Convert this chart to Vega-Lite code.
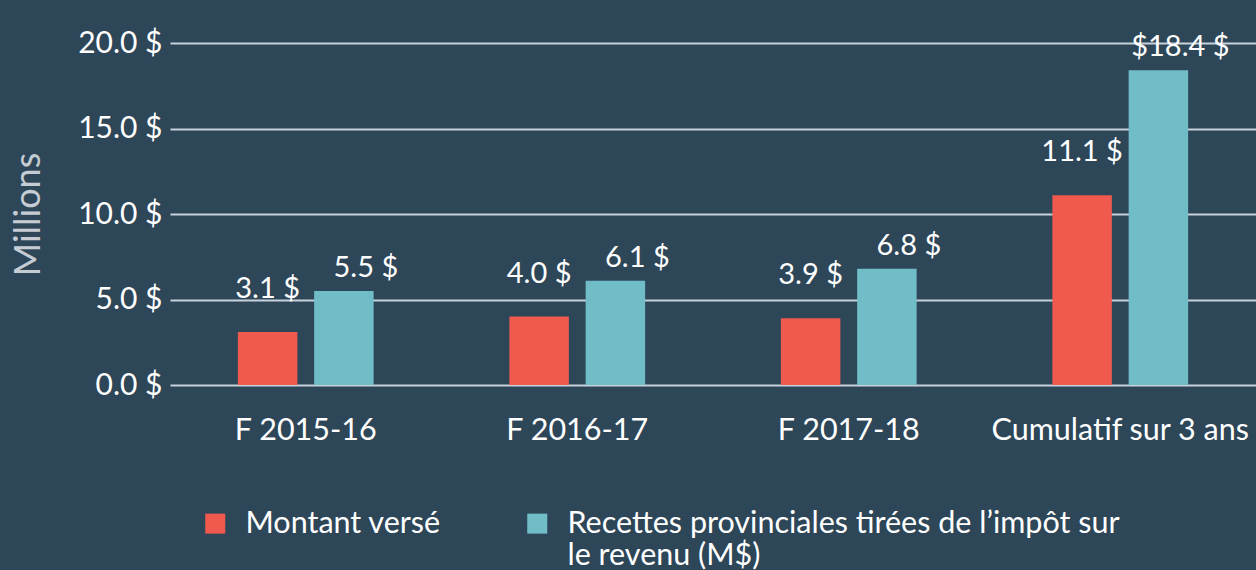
{
  "$schema": "https://vega.github.io/schema/vega-lite/v6.json",
  "autosize": "none",
  "width": 1086,
  "height": 342,
  "padding": {"left": 170, "top": 43, "right": 0, "bottom": 185},
  "background": "#2d4658",
  "config": {
    "view": {"stroke": null},
    "font": "Lato"
  },
  "data": {
    "values": [
      {"period": "F 2015-16", "series": "Montant versé", "value": 3.1, "label": "3.1 $"},
      {"period": "F 2015-16", "series": "Recettes provinciales tirées de l’impôt sur le revenu (M$)", "value": 5.5, "label": "5.5 $"},
      {"period": "F 2016-17", "series": "Montant versé", "value": 4.0, "label": "4.0 $"},
      {"period": "F 2016-17", "series": "Recettes provinciales tirées de l’impôt sur le revenu (M$)", "value": 6.1, "label": "6.1 $"},
      {"period": "F 2017-18", "series": "Montant versé", "value": 3.9, "label": "3.9 $"},
      {"period": "F 2017-18", "series": "Recettes provinciales tirées de l’impôt sur le revenu (M$)", "value": 6.8, "label": "6.8 $"},
      {"period": "Cumulatif sur 3 ans", "series": "Montant versé", "value": 11.1, "label": "11.1 $"},
      {"period": "Cumulatif sur 3 ans", "series": "Recettes provinciales tirées de l’impôt sur le revenu (M$)", "value": 18.4, "label": "$18.4 $"}
    ]
  },
  "encoding": {
    "x": {
      "field": "period", "type": "nominal", "sort": null,
      "scale": {"paddingInner": 0.5, "paddingOuter": 0.25},
      "axis": {
        "title": null, "labelAngle": 0, "ticks": false, "domain": false,
        "labelFontSize": 30.5, "labelColor": "#ffffff", "labelPadding": 30,
        "labelLimit": 0, "labelOverlap": false
      }
    },
    "xOffset": {"field": "series", "type": "nominal", "sort": null, "scale": {"paddingInner": 0.22}},
    "y": {
      "field": "value", "type": "quantitative",
      "scale": {"domain": [0, 20], "nice": false},
      "axis": {
        "title": "Millions", "titleFontSize": 36, "titleColor": "#c5ccd3", "titleFontWeight": "normal",
        "titlePadding": 30,
        "values": [0, 5, 10, 15, 20],
        "labelExpr": "format(datum.value, '.1f') + ' $'",
        "labelFontSize": 30, "labelColor": "#ffffff", "labelPadding": 8,
        "ticks": false, "domain": false,
        "grid": true, "gridColor": "#c8d2da", "gridWidth": 2, "gridOpacity": 1
      }
    }
  },
  "layer": [
    {
      "mark": {"type": "bar"},
      "encoding": {
        "color": {
          "field": "series", "type": "nominal", "sort": null,
          "scale": {"range": ["#f05a4e", "#70bdc8"]},
          "legend": {
            "title": null, "orient": "none", "legendX": 30, "legendY": 465,
            "direction": "horizontal", "columns": 2, "columnPadding": 81,
            "symbolType": "square", "symbolSize": 400, "symbolStrokeWidth": 0,
            "labelFontSize": 30.5, "labelColor": "#ffffff", "labelOffset": 15,
            "labelLimit": 800,
            "labelExpr": "datum.label == 'Montant versé' ? ['Montant versé', ''] : ['Recettes provinciales tirées de l’impôt sur', 'le revenu (M$)']"
          }
        }
      }
    },
    {
      "transform": [{"filter": "datum.series == 'Montant versé'"}],
      "mark": {"type": "text", "baseline": "alphabetic", "dy": -34, "fontSize": 29, "color": "#ffffff"},
      "encoding": {
        "text": {"field": "label"}
      }
    },
    {
      "transform": [{"filter": "datum.series != 'Montant versé'"}],
      "mark": {"type": "text", "baseline": "alphabetic", "dy": -14, "dx": 22, "fontSize": 29, "color": "#ffffff"},
      "encoding": {
        "text": {"field": "label"}
      }
    }
  ]
}
